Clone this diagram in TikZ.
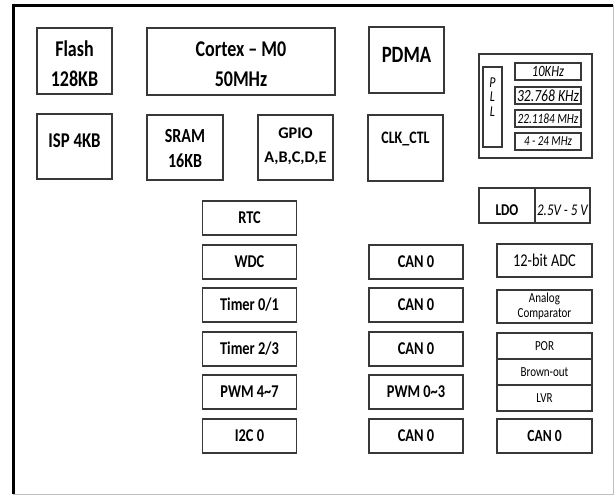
\documentclass[tikz,border=0pt]{standalone}
\usepackage{fontspec}
\setmainfont{Carlito}[FakeStretch=0.8]
\newfontfamily\widefont{Carlito}
\usepackage{xcolor}

% text with its last baseline #1 below the box centre
\newcommand{\txt}[2]{\raisebox{-#1}[0pt][0pt]{#2}}
\newcommand{\twoline}[3]{\txt{#1}{\begin{tabular}[b]{@{}c@{}}#2\\#3\end{tabular}}}

\tikzset{
  blk/.style={draw=black!78, line width=1.1pt, inner sep=0pt, align=center},
  bigtxt/.style={font=\fontsize{22.5}{29}\selectfont\bfseries},
  unit/.style={blk, font=\fontsize{18}{20}\selectfont\bfseries, minimum width=94pt, minimum height=34pt},
  freq/.style={blk, minimum width=66pt, minimum height=17pt},
  ana/.style={blk, minimum width=95pt},
}

\begin{document}
\begin{tikzpicture}[x=1pt, y=-1pt]
\useasboundingbox (0,0) rectangle (616,495);
% chip outline
\draw[black!25, line width=1pt] (13,6) rectangle (613,494);
\draw[black, line width=3pt] (13,494) -- (13,6) -- (613,6);

% core blocks
\node[blk, bigtxt, minimum width=75pt, minimum height=66pt] (flash) at (74.5, 61) {\twoline{25pt}{Flash}{128KB}};
\node[blk, bigtxt, minimum width=188pt, minimum height=67pt] (cortex) at (241, 61.5) {\twoline{24.5pt}{Cortex -- M0}{50MHz}};
\node[blk, font=\fontsize{23.4}{29}\selectfont\bfseries, minimum width=75pt, minimum height=66pt] (pdma) at (406.5, 60) {\txt{2pt}{PDMA}};
\node[blk, font=\fontsize{21}{25}\selectfont\bfseries, minimum width=75pt, minimum height=65pt] (isp) at (74.5, 146.5) {\txt{0.5pt}{ISP 4KB}};
\node[blk, font=\fontsize{20}{25}\selectfont\bfseries, minimum width=76pt, minimum height=65pt] (sram) at (185, 147.5) {\twoline{19.5pt}{SRAM}{16KB}};
\node[blk, font=\widefont\fontsize{16.3}{24}\selectfont\bfseries, minimum width=75pt, minimum height=65pt] (gpio) at (295.5, 147.5) {\twoline{14.5pt}{GPIO}{A,B,C,D,E}};
\node[blk, font=\fontsize{17.5}{22}\selectfont\bfseries, minimum width=75pt, minimum height=66pt] (clkctl) at (405.5, 148) {\txt{-5pt}{CLK\_CTL}};

% clock sources
\node[blk, minimum width=113pt, minimum height=104pt] (pll) at (535.5, 106) {};
\node[blk, minimum width=19pt, minimum height=80pt, font=\fontsize{15}{14.5}\selectfont\itshape] (pllv) at (492.5, 107) {\txt{9pt}{\begin{tabular}[b]{@{}c@{}}P\\L\\L\end{tabular}}};
\node[freq, font=\fontsize{15.7}{18}\selectfont\itshape] (f1) at (548, 71.5) {10KHz};
\node[freq, font=\fontsize{17}{18}\selectfont\itshape] (f2) at (548, 95.5) {32.768 KHz};
\node[freq, font=\fontsize{14.1}{18}\selectfont\itshape] (f3) at (548, 118.5) {22.1184 MHz};
\node[freq, font=\fontsize{13.7}{18}\selectfont\itshape] (f4) at (548, 141.5) {4 - 24 MHz};

% power
\node[blk, font=\fontsize{16.5}{20}\selectfont\bfseries, minimum width=56pt, minimum height=35pt] (ldo) at (507, 205.5) {\txt{10pt}{LDO}};
\node[blk, font=\fontsize{16.3}{20}\selectfont\itshape, minimum width=55pt, minimum height=35pt] (volt) at (562.5, 205.5) {\txt{10pt}{2.5V - 5 V}};

% timers and serial
\node[unit] (rtc) at (249.5, 218) {RTC};
\node[unit] (wdc) at (249.5, 262) {WDC};
\node[unit] (tmra) at (249.5, 305) {Timer 0/1};
\node[unit] (tmrb) at (249.5, 349) {Timer 2/3};
\node[unit] (pwmb) at (249.5, 392) {PWM 4\textasciitilde 7};
\node[unit] (iic) at (249.5, 436) {I2C 0};

\node[unit] (cana) at (416, 262) {CAN 0};
\node[unit] (canb) at (416, 305) {CAN 0};
\node[unit] (canc) at (416, 349) {CAN 0};
\node[unit] (pwma) at (416, 392) {PWM 0\textasciitilde 3};
\node[unit] (cand) at (416, 436) {CAN 0};

% analog
\node[ana, font=\fontsize{18}{20}\selectfont, minimum height=33pt] (adc) at (544.5, 260.5) {12-bit ADC};
\node[ana, font=\fontsize{13.8}{15}\selectfont, minimum height=33pt] (comp) at (544.5, 306.5) {Analog\\Comparator};
\node[ana, font=\fontsize{13.8}{16}\selectfont, minimum height=26pt] (por) at (544.5, 346) {POR};
\node[ana, font=\fontsize{13.8}{16}\selectfont, minimum height=26pt] (bod) at (544.5, 372) {Brown-out};
\node[ana, font=\fontsize{13.8}{16}\selectfont, minimum height=26pt] (lvr) at (544.5, 398) {LVR};
\node[ana, font=\fontsize{17}{20}\selectfont\bfseries, minimum height=34pt] (cane) at (544.5, 436) {CAN 0};
\end{tikzpicture}
\end{document}
